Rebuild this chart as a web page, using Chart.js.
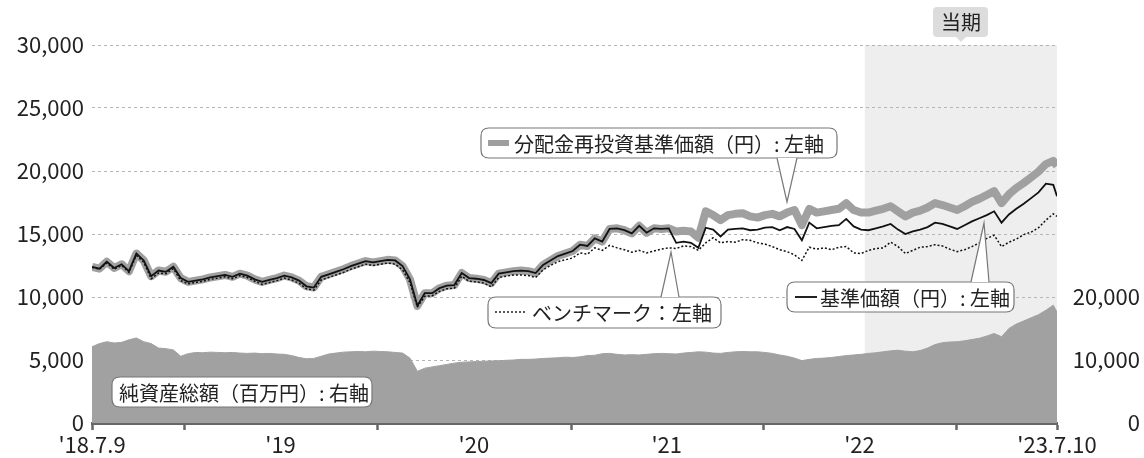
<!DOCTYPE html>
<html>
<head>
<meta charset="utf-8">
<script src="https://cdn.jsdelivr.net/npm/chart.js@4.4.1/dist/chart.umd.min.js"></script>
<style>
  html, body { margin: 0; padding: 0; background: #fff; }
  #wrap { width: 1144px; height: 458px; }
</style>
</head>
<body>
<div id="wrap"><canvas id="myChart" width="1144" height="458"></canvas></div>
<script>
//---------------------------- データ ----------------------------
// 2018.7.9 からの経過日数（14日ごと、最後は 2023.7.10）
const dayStep = 14;
const lastDay = 1827;

// 基準価額（円）
const navValues = [
  12400, 12250, 12800, 12300, 12600, 12050, 13450, 12900, 11650, 12100,
  12000, 12400, 11500, 11200, 11300, 11400, 11550, 11650, 11750, 11600,
  11850, 11700, 11400, 11200, 11350, 11500, 11700, 11550, 11300, 10850,
  10750, 11600, 11800, 12000, 12200, 12450, 12650, 12850, 12750, 12850,
  12950, 12900, 12450, 11400, 9300, 10300, 10300, 10700, 10900, 10950,
  11900, 11500, 11450, 11350, 11100, 11850, 11950, 12050, 12100, 12050,
  11900, 12550, 12900, 13250, 13450, 13650, 14150, 14050, 14650, 14400,
  15400, 15450, 15300, 15050, 15650, 15100, 15450, 15400, 15450, 14300,
  14400, 14300, 13900, 15500, 15350, 14800, 15350, 15400, 15450, 15300,
  15350, 15500, 15550, 15300, 15550, 15400, 14500, 15900, 15450, 15550,
  15650, 15700, 16200, 15600, 15350, 15300, 15450, 15600, 15800, 15350,
  15000, 15200, 15350, 15550, 15900, 15800, 15600, 15400, 15700, 16000,
  16250, 16500, 16800, 15900, 16550, 17000, 17400, 17850, 18300, 19000,
  18900, 18000
];

// 分配金再投資基準価額（円）
const reinvValues = [
  12400, 12250, 12800, 12300, 12600, 12050, 13450, 12900, 11650, 12100,
  12000, 12400, 11500, 11200, 11300, 11400, 11550, 11650, 11750, 11600,
  11850, 11700, 11400, 11200, 11350, 11500, 11700, 11550, 11300, 10850,
  10750, 11600, 11800, 12000, 12200, 12450, 12650, 12850, 12750, 12850,
  12950, 12900, 12450, 11400, 9300, 10300, 10300, 10700, 10900, 10950,
  11900, 11500, 11450, 11350, 11100, 11850, 11950, 12050, 12100, 12050,
  11900, 12550, 12900, 13250, 13450, 13650, 14150, 14050, 14650, 14400,
  15400, 15450, 15300, 15050, 15650, 15100, 15450, 15400, 15450, 15200,
  15250, 15200, 14700, 16800, 16500, 16100, 16500, 16600, 16650, 16400,
  16300, 16500, 16600, 16400, 16700, 16900, 15700, 17000, 16700, 16800,
  16900, 17000, 17450, 16900, 16700, 16700, 16850, 17000, 17200, 16800,
  16400, 16700, 16850, 17100, 17450, 17300, 17100, 16900, 17200, 17550,
  17800, 18100, 18400, 17450, 18150, 18650, 19050, 19500, 19950, 20550,
  20800, 20400
];

// ベンチマーク
const benchValues = [
  12350, 12200, 12700, 12200, 12500, 11950, 13300, 12750, 11450, 11900,
  11850, 12250, 11300, 11050, 11150, 11250, 11400, 11500, 11600, 11450,
  11700, 11550, 11250, 11000, 11150, 11300, 11500, 11350, 11100, 10650,
  10550, 11350, 11550, 11750, 11950, 12200, 12400, 12600, 12500, 12600,
  12700, 12600, 12150, 11150, 9200, 10050, 10100, 10450, 10650, 10700,
  11650, 11250, 11200, 11100, 10800, 11550, 11650, 11750, 11750, 11700,
  11550, 12150, 12500, 12800, 12950, 13100, 13500, 13400, 13900, 13700,
  14100, 13900, 13750, 13550, 13700, 13500, 13650, 13800, 13900, 13850,
  14050, 14000, 13700, 14300, 14700, 14300, 14400, 14350, 14550, 14500,
  14300, 14200, 14000, 13750, 13600, 13350, 12900, 13950, 13800, 13900,
  13750, 13950, 14000, 13500, 13450, 13700, 13850, 13900, 14350, 14000,
  13450, 13700, 13950, 14000, 14150, 14050, 13800, 13600, 13750, 14000,
  14300, 14650, 14900, 14000, 14350, 14600, 14950, 15150, 15500, 16100,
  16600, 16400
];

// 純資産総額（百万円）
const assetValues = [
  12100, 12600, 12900, 12700, 12800, 13200, 13500, 12900, 12600, 11900,
  11800, 11600, 10600, 11000, 11200, 11150, 11250, 11200, 11150, 11200,
  11100, 11050, 11100, 11000, 11050, 10950, 10900, 10700, 10400, 10200,
  10250, 10600, 10950, 11100, 11250, 11300, 11350, 11300, 11400, 11350,
  11300, 11200, 11100, 10300, 8200, 8700, 8900, 9100, 9300, 9500,
  9650, 9700, 9750, 9800, 9850, 9900, 9950, 10000, 10100, 10100,
  10150, 10250, 10300, 10350, 10450, 10400, 10500, 10700, 10750, 11000,
  11050, 10900, 10800, 10850, 10800, 10900, 11000, 11050, 11000, 10950,
  11100, 11200, 11300, 11250, 11100, 11050, 11200, 11300, 11350, 11300,
  11300, 11200, 11050, 10800, 10600, 10300, 9900, 10100, 10250, 10300,
  10400, 10550, 10700, 10800, 10900, 11050, 11150, 11300, 11450, 11550,
  11400, 11300, 11500, 11900, 12450, 12750, 12850, 12900, 13050, 13250,
  13450, 13800, 14200, 13700, 15000, 15700, 16200, 16700, 17200, 17900,
  18700, 17600
];

// 目盛り（経過日数）と表示ラベル
const yearEdgeDays = [0, 176, 541, 907, 1272, 1637, 1827];
const labelDays = [0, 357, 723, 1088, 1453, 1827];
const labelTexts = ["'18.7.9", "'19", "'20", "'21", "'22", "'23.7.10"];
const periodStartDay = 1463; // 当期 2022.7.11〜

const days = navValues.map((v, i) => Math.min(i * dayStep, lastDay));
const toPoints = (arr) => arr.map((v, i) => ({ x: days[i], y: v }));

const FONT = "'Noto Sans CJK JP', 'Noto Sans', sans-serif";
const TEXT = '#222';

//---------------------------- 当期の背景 ----------------------------
const periodShade = {
  id: 'periodShade',
  beforeDraw(chart) {
    const { ctx, chartArea, scales } = chart;
    const x0 = scales.x.getPixelForValue(periodStartDay);
    const x1 = scales.x.getPixelForValue(lastDay);
    ctx.save();
    ctx.fillStyle = '#eeeeee';
    ctx.fillRect(x0, chartArea.top, x1 - x0, chartArea.bottom - chartArea.top);
    ctx.restore();
  }
};

//---------------------------- 吹き出し ----------------------------
function roundBox(ctx, x, y, w, h, r) {
  ctx.beginPath();
  ctx.moveTo(x + r, y);
  ctx.lineTo(x + w - r, y);
  ctx.quadraticCurveTo(x + w, y, x + w, y + r);
  ctx.lineTo(x + w, y + h - r);
  ctx.quadraticCurveTo(x + w, y + h, x + w - r, y + h);
  ctx.lineTo(x + r, y + h);
  ctx.quadraticCurveTo(x, y + h, x, y + h - r);
  ctx.lineTo(x, y + r);
  ctx.quadraticCurveTo(x, y, x + r, y);
  ctx.closePath();
}

function callout(ctx, box, tip) {
  ctx.save();
  ctx.fillStyle = '#fff';
  ctx.strokeStyle = '#777';
  ctx.lineWidth = 1.2;
  roundBox(ctx, box.x, box.y, box.w, box.h, 8);
  ctx.fill();
  ctx.stroke();
  if (tip) {
    const by = tip.side === 'top' ? box.y : box.y + box.h;
    ctx.beginPath();
    ctx.moveTo(tip.x0, by);
    ctx.lineTo(tip.ax, tip.ay);
    ctx.lineTo(tip.x1, by);
    ctx.closePath();
    ctx.fill();
    ctx.beginPath();
    ctx.moveTo(tip.x0, by);
    ctx.lineTo(tip.ax, tip.ay);
    ctx.lineTo(tip.x1, by);
    ctx.stroke();
  }
  ctx.restore();
}

const notes = {
  id: 'notes',
  afterDraw(chart) {
    const ctx = chart.ctx;
    ctx.save();
    ctx.textBaseline = 'middle';
    ctx.font = '20px ' + FONT;

    // 分配金再投資基準価額
    callout(ctx, { x: 481, y: 128, w: 356, h: 30 }, { side: 'bottom', x0: 777, x1: 797, ax: 787, ay: 202 });
    ctx.strokeStyle = '#9e9e9e';
    ctx.lineWidth = 6;
    ctx.beginPath(); ctx.moveTo(488, 143); ctx.lineTo(509, 143); ctx.stroke();
    ctx.fillStyle = TEXT;
    ctx.fillText('分配金再投資基準価額（円）: 左軸', 514, 144);

    // ベンチマーク
    callout(ctx, { x: 488, y: 297, w: 233, h: 31 }, { side: 'top', x0: 661, x1: 679, ax: 671, ay: 252 });
    ctx.strokeStyle = '#222';
    ctx.lineWidth = 1.4;
    ctx.setLineDash([2, 2]);
    ctx.beginPath(); ctx.moveTo(495, 312); ctx.lineTo(527, 312); ctx.stroke();
    ctx.setLineDash([]);
    ctx.fillText('ベンチマーク：左軸', 532, 313);

    // 基準価額
    callout(ctx, { x: 787, y: 282, w: 227, h: 30 }, { side: 'top', x0: 971, x1: 989, ax: 984, ay: 223 });
    ctx.lineWidth = 2;
    ctx.beginPath(); ctx.moveTo(795, 297); ctx.lineTo(817, 297); ctx.stroke();
    ctx.fillText('基準価額（円）: 左軸', 820, 298);

    // 純資産総額
    callout(ctx, { x: 112, y: 377, w: 260, h: 30 }, null);
    ctx.fillText('純資産総額（百万円）: 右軸', 119, 393);

    // 当期
    ctx.fillStyle = '#dcdcdc';
    roundBox(ctx, 933, 7, 55, 30, 4);
    ctx.fill();
    ctx.beginPath();
    ctx.moveTo(956, 37); ctx.lineTo(961, 42); ctx.lineTo(966, 37); ctx.closePath();
    ctx.fill();
    ctx.fillStyle = TEXT;
    ctx.textAlign = 'center';
    ctx.fillText('当期', 961, 22);
    ctx.restore();
  }
};

//---------------------------- グラフ ----------------------------
const ctx = document.getElementById('myChart');
const myChart = new Chart(ctx, {
  type: 'line',
  data: {
    datasets: [
      {
        label: '基準価額',
        data: toPoints(navValues),
        borderColor: '#111',
        borderWidth: 1.8,
        pointRadius: 0,
        yAxisID: 'y',
        order: 0
      },
      {
        label: 'ベンチマーク',
        data: toPoints(benchValues),
        borderColor: '#111',
        borderWidth: 1.5,
        borderDash: [2, 2],
        pointRadius: 0,
        yAxisID: 'y',
        order: 1
      },
      {
        label: '分配金再投資基準価額',
        data: toPoints(reinvValues),
        borderColor: '#a0a0a0',
        borderWidth: 8,
        borderJoinStyle: 'round',
        pointRadius: 0,
        yAxisID: 'y',
        order: 2
      },
      {
        label: '純資産総額',
        data: toPoints(assetValues),
        borderColor: '#a0a1a0',
        backgroundColor: '#a0a1a0',
        borderWidth: 1,
        fill: 'origin',
        pointRadius: 0,
        yAxisID: 'y2',
        order: 3
      }
    ]
  },
  options: {
    responsive: false,
    animation: false,
    layout: { padding: { top: 45, right: 4, left: 0, bottom: 0 } },
    plugins: {
      legend: { display: false },
      tooltip: { enabled: false }
    },
    scales: {
      x: {
        type: 'linear',
        min: 0,
        max: lastDay,
        afterBuildTicks: (scale) => {
          const all = yearEdgeDays.concat(labelDays.slice(1, -1));
          scale.ticks = all.sort((a, b) => a - b).map(v => ({ value: v }));
        },
        afterFit: (scale) => { scale.height = 35; },
        ticks: {
          autoSkip: false,
          maxRotation: 0,
          padding: 1,
          color: TEXT,
          font: { family: FONT, size: 22 },
          callback: (v) => {
            const k = labelDays.indexOf(v);
            return k >= 0 ? labelTexts[k] : '';
          }
        },
        grid: {
          drawOnChartArea: false,
          drawTicks: true,
          tickLength: 7,
          tickWidth: 2.5,
          tickColor: (c) => (c.tick && yearEdgeDays.includes(c.tick.value)) ? '#666' : 'rgba(0,0,0,0)'
        },
        border: { display: true, color: '#666', width: 3 }
      },
      y: {
        position: 'left',
        min: 0,
        max: 30000,
        afterFit: (scale) => { scale.width = 92; },
        ticks: {
          stepSize: 5000,
          padding: 8,
          color: TEXT,
          font: { family: FONT, size: 22 },
          callback: (v) => v.toLocaleString('en-US')
        },
        grid: {
          color: (c) => c.tick && c.tick.value === 0 ? 'rgba(0,0,0,0)' : '#b5b5b5',
          lineWidth: 1,
          drawTicks: false
        },
        border: { display: false, dash: [3, 3] }
      },
      y2: {
        position: 'right',
        min: 0,
        max: 60000,
        afterBuildTicks: (scale) => {
          scale.ticks = [0, 10000, 20000].map(v => ({ value: v }));
        },
        afterFit: (scale) => { scale.width = 83; },
        ticks: {
          padding: 8,
          crossAlign: 'far',
          color: TEXT,
          font: { family: FONT, size: 22 },
          callback: (v) => v.toLocaleString('en-US')
        },
        grid: { display: false, drawTicks: false },
        border: { display: false }
      }
    }
  },
  plugins: [periodShade, notes]
});

// y 軸の点線グリッド
myChart.options.scales.y.border.dash = [3, 3];
myChart.update();
</script>
</body>
</html>
